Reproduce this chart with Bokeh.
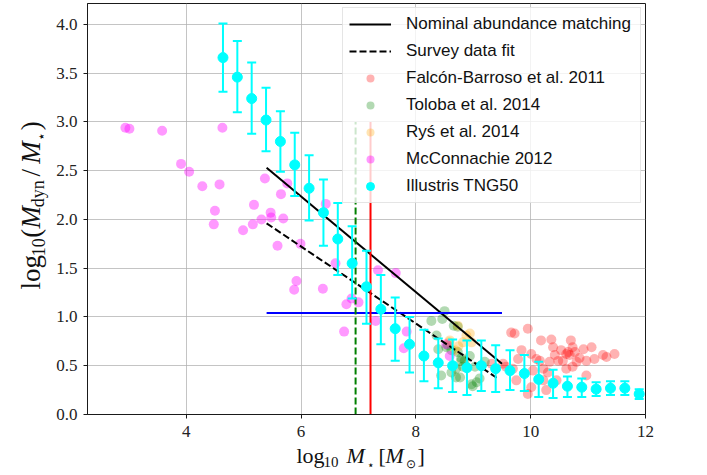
import numpy as np
from bokeh.plotting import figure
from bokeh.models import Range1d, Legend, LegendItem, FixedTicker
from bokeh.layouts import row, column
from bokeh.core.properties import value
from bokeh.embed import file_html
from bokeh.resources import INLINE

# ---------------- data ----------------
# Illustris TNG50 binned medians with error bars
tng_logm = [4.64, 4.89, 5.14, 5.39, 5.64, 5.89, 6.14, 6.39, 6.64, 6.89,
            7.14, 7.39, 7.64, 7.89, 8.14, 8.39, 8.64, 8.89, 9.14, 9.39,
            9.64, 9.89, 10.14, 10.39, 10.64, 10.89, 11.14, 11.39, 11.64, 11.89]
tng_ratio = [3.66, 3.46, 3.24, 3.02, 2.80, 2.56, 2.32, 2.07, 1.80, 1.55,
             1.31, 1.08, 0.88, 0.72, 0.60, 0.53, 0.50, 0.48, 0.50, 0.47,
             0.45, 0.42, 0.36, 0.32, 0.29, 0.28, 0.26, 0.27, 0.27, 0.21]
tng_hi = [4.01, 3.83, 3.61, 3.35, 3.11, 2.89, 2.66, 2.41, 2.17, 1.93,
          1.68, 1.43, 1.20, 1.00, 0.87, 0.78, 0.77, 0.76, 0.76, 0.71,
          0.66, 0.61, 0.54, 0.46, 0.39, 0.37, 0.33, 0.34, 0.34, 0.26]
tng_lo = [3.31, 3.10, 2.88, 2.70, 2.49, 2.24, 1.99, 1.73, 1.43, 1.19,
          0.93, 0.72, 0.55, 0.43, 0.34, 0.27, 0.23, 0.20, 0.24, 0.23,
          0.25, 0.24, 0.18, 0.17, 0.18, 0.18, 0.19, 0.20, 0.20, 0.16]

# McConnachie 2012
mcc_logm = [2.94, 3.01, 3.58, 4.63, 3.91, 4.05, 4.28, 4.58, 4.50, 4.48,
            4.99, 5.16, 5.18, 5.37, 5.31, 5.47, 5.48, 5.69, 5.65, 5.76,
            6.43, 5.59, 5.99, 5.92, 5.88, 6.38, 6.60, 6.79, 6.88, 7.00,
            6.75, 7.34, 7.65, 7.30, 7.84, 7.79, 8.53, 8.59]
mcc_ratio = [2.94, 2.93, 2.91, 2.94, 2.57, 2.49, 2.34, 2.36, 2.09, 1.95,
             1.89, 1.95, 2.15, 2.42, 2.00, 2.07, 2.02, 2.01, 2.26, 2.37,
             2.16, 1.73, 1.75, 1.37, 1.28, 1.29, 1.55, 1.13, 1.19, 1.15,
             0.85, 1.48, 1.45, 0.96, 0.85, 0.68, 0.72, 0.60]

# Toloba et al. 2014
tol_logm = [8.50, 8.46, 8.27, 8.66, 8.36, 8.53, 8.44, 8.70, 8.73, 8.39,
            8.56, 8.62, 8.73, 8.79, 8.82, 8.62, 8.77, 8.94, 9.03, 8.97,
            9.06, 9.20, 9.11, 8.85, 8.70, 8.79, 8.99]
tol_ratio = [1.06, 0.98, 0.96, 0.91, 0.81, 0.69, 0.40, 0.47, 0.90, 0.67,
             0.71, 0.66, 0.64, 0.55, 0.49, 0.43, 0.38, 0.60, 0.49, 0.31,
             0.33, 0.54, 0.37, 0.55, 0.38, 0.58, 0.29]

# Rys et al. 2014
rys_logm = [8.73, 8.88, 8.59, 8.82, 8.97, 8.68, 8.94, 8.58, 8.74]
rys_ratio = [0.91, 0.81, 0.76, 0.74, 0.74, 0.66, 0.83, 0.74, 0.70]

# Falcon-Barroso et al. 2011
fb_logm = [9.66, 9.95, 9.72, 10.18, 10.36, 10.70, 9.84, 10.01, 10.42, 10.53,
           10.62, 10.68, 10.77, 10.85, 11.06, 10.97, 11.11, 11.26, 11.32, 11.46,
           9.57, 9.69, 9.75, 10.04, 10.22, 10.30, 10.27, 9.95, 10.01, 10.45,
           10.62, 10.73, 10.97, 10.10, 10.33, 10.48, 10.56, 10.80, 10.39, 10.73,
           10.65, 10.92, 9.32, 9.52, 9.78, 10.22, 10.16]
fb_ratio = [0.84, 0.88, 0.83, 0.76, 0.77, 0.76, 0.66, 0.62, 0.61, 0.66,
            0.62, 0.61, 0.64, 0.58, 0.69, 0.55, 0.57, 0.61, 0.59, 0.62,
            0.49, 0.47, 0.35, 0.45, 0.47, 0.43, 0.25, 0.21, 0.28, 0.35,
            0.47, 0.49, 0.40, 0.57, 0.54, 0.55, 0.55, 0.54, 0.69, 0.69,
            0.64, 0.67, 0.52, 0.52, 0.57, 0.35, 0.55]

# relations
nominal_logm = [5.4, 9.5]
nominal_ratio = [2.53, 0.52]
survey_logm = [5.4, 9.45]
survey_ratio = [1.96, 0.36]
blue_logm = [5.4, 9.5]
blue_ratio = [1.04, 1.04]
green_logm = [6.95, 6.95]
green_ratio = [0.0, 3.0]
red_logm = [7.21, 7.21]
red_ratio = [0.0, 3.0]

x_ticks = [4, 6, 8, 10, 12]
y_ticks = [0.0, 0.5, 1.0, 1.5, 2.0, 2.5, 3.0, 3.5, 4.0]

# ---------------- geometry ----------------
W, H = 707, 475
YLAB_W = 49          # strip holding the vertical axis title
MAIN_H = 444         # main plot height; the rest holds the x title
X0, X1 = 2.28, 12.0
Y0, Y1 = 0.0, 4.215

p = figure(width=W - YLAB_W, height=MAIN_H, output_backend="svg",
           toolbar_location=None,
           x_range=Range1d(X0, X1), y_range=Range1d(Y0, Y1),
           min_border_left=87 - YLAB_W, min_border_right=W - 645,
           min_border_top=3, min_border_bottom=MAIN_H - 414)
p.background_fill_color = "white"
p.border_fill_color = "white"
p.outline_line_color = "#1a1a1a"
p.outline_line_width = 1

for ax in (p.xaxis[0], p.yaxis[0]):
    ax.axis_line_color = "#1a1a1a"
    ax.major_tick_line_color = "#1a1a1a"
    ax.major_tick_in = 0
    ax.major_tick_out = 4
    ax.minor_tick_line_color = None
    ax.major_label_text_font = "Liberation Serif"
    ax.major_label_text_font_size = "17px"
    ax.major_label_text_color = "#222222"
p.xaxis.ticker = FixedTicker(ticks=x_ticks)
p.yaxis.ticker = FixedTicker(ticks=y_ticks)
p.xaxis.major_label_overrides = {t: str(t) for t in x_ticks}
p.yaxis.major_label_overrides = {t: f"{t:.1f}" for t in y_ticks}
p.xaxis.major_label_standoff = 7
p.yaxis.major_label_standoff = 6
p.xgrid.ticker = FixedTicker(ticks=x_ticks)
p.ygrid.ticker = FixedTicker(ticks=y_ticks)
p.grid.grid_line_color = "#b0b0b0"
p.grid.grid_line_alpha = 0.75
p.grid.grid_line_width = 1

# survey data scatters
r_fb = p.scatter(fb_logm, fb_ratio, size=10, color="red", alpha=0.3, line_color=None)
r_tol = p.scatter(tol_logm, tol_ratio, size=10, color="green", alpha=0.3, line_color=None)
r_rys = p.scatter(rys_logm, rys_ratio, size=10, color="orange", alpha=0.3, line_color=None)
r_mcc = p.scatter(mcc_logm, mcc_ratio, size=10, color="magenta", alpha=0.4, line_color=None)

# relations / lines
r_nom = p.line(nominal_logm, nominal_ratio, line_color="black", line_width=2)
r_sur = p.line(survey_logm, survey_ratio, line_color="black", line_width=2, line_dash="7 3")
p.line(blue_logm, blue_ratio, line_color="blue", line_width=2)
p.line(green_logm, green_ratio, line_color="green", line_width=2, line_dash="7 3")
p.line(red_logm, red_ratio, line_color="red", line_width=2)

# TNG50 error bars
p.segment(x0=tng_logm, y0=tng_lo, x1=tng_logm, y1=tng_hi, line_color="cyan", line_width=2)
p.scatter(tng_logm, tng_hi, marker="dash", size=9, line_color="cyan", line_width=2)
p.scatter(tng_logm, tng_lo, marker="dash", size=9, line_color="cyan", line_width=2)
r_tng = p.scatter(tng_logm, tng_ratio, size=10, fill_color="cyan", line_color="cyan")

legend = Legend(items=[
    LegendItem(label="Nominal abundance matching", renderers=[r_nom]),
    LegendItem(label="Survey data fit", renderers=[r_sur]),
    LegendItem(label="Falcón-Barroso et al. 2011", renderers=[r_fb]),
    LegendItem(label="Toloba et al. 2014", renderers=[r_tol]),
    LegendItem(label="Ryś et al. 2014", renderers=[r_rys]),
    LegendItem(label="McConnachie 2012", renderers=[r_mcc]),
    LegendItem(label="Illustris TNG50", renderers=[r_tng]),
], location="top_right")
legend.margin = 4
legend.padding = 6
legend.spacing = 7
legend.glyph_width = 42
legend.glyph_height = 20
legend.label_height = 20
legend.label_width = 228
legend.label_standoff = 15
legend.label_text_font = "Liberation Sans"
legend.label_text_font_size = "17px"
legend.label_text_color = "#111111"
legend.border_line_color = "#cccccc"
legend.border_line_width = 1
legend.background_fill_color = "white"
legend.background_fill_alpha = 0.8
p.add_layout(legend)

# ---------------- axis titles (composed from pieces, real text) ----------------
FONT = "Liberation Serif"
MID = 0.36   # offset between alphabetic baseline and the glyph anchor, in em


def text_strip(width, height):
    f = figure(width=width, height=height, output_backend="svg",
               toolbar_location=None, x_axis_type=None, y_axis_type=None,
               x_range=Range1d(0, width), y_range=Range1d(0, height),
               min_border=0)
    f.outline_line_color = None
    f.background_fill_color = "white"
    f.border_fill_color = "white"
    f.grid.visible = False
    return f


# vertical title: log10 (M_dyn / M*), reading bottom to top
# (text, start y from top, baseline x, font px, style)
ylab_fig = text_strip(YLAB_W, MAIN_H)
ylab = [("log", 309, 40, 27, "normal"), ("10", 273, 44, 18, "normal"),
        ("(", 253, 40, 27, "normal"), ("M", 243, 40, 27, "italic"),
        ("dyn", 220, 44, 18, "normal"), ("/", 187, 40, 27, "normal"),
        ("M", 173, 40, 27, "italic"), ("⋆", 149, 46, 14, "normal"),
        (")", 137, 40, 27, "normal")]
for txt, py, px, fs, st in ylab:
    ylab_fig.text(x=[px - MID * fs], y=[MAIN_H - py], text=[txt], angle=np.pi / 2,
                  text_font=value(FONT), text_font_size=value(f"{fs}px"),
                  text_font_style=value(st), text_color="#111111",
                  text_align="left", text_baseline="middle")

# horizontal title: log10 M* [Msun]
XLAB_H = H - MAIN_H
xlab_fig = text_strip(W, XLAB_H)
# (text, start x, baseline y from top, font px, style)
xlab = [("log", 296, 463, 22, "normal"), ("10", 323, 467, 15, "normal"),
        ("M", 346, 463, 22, "italic"), ("⋆", 366, 469, 12, "normal"),
        ("[", 378, 463, 22, "normal"), ("M", 385, 463, 22, "italic"),
        ("⊙", 405, 468, 12, "normal"), ("]", 417, 463, 22, "normal")]
for txt, px, py, fs, st in xlab:
    xlab_fig.text(x=[px], y=[H - (py - MID * fs)], text=[txt],
                  text_font=value(FONT), text_font_size=value(f"{fs}px"),
                  text_font_style=value(st), text_color="#111111",
                  text_align="left", text_baseline="middle")

layout = column(row(ylab_fig, p, spacing=0), xlab_fig, spacing=0)

open("out.html", "w").write(file_html(layout, INLINE))
